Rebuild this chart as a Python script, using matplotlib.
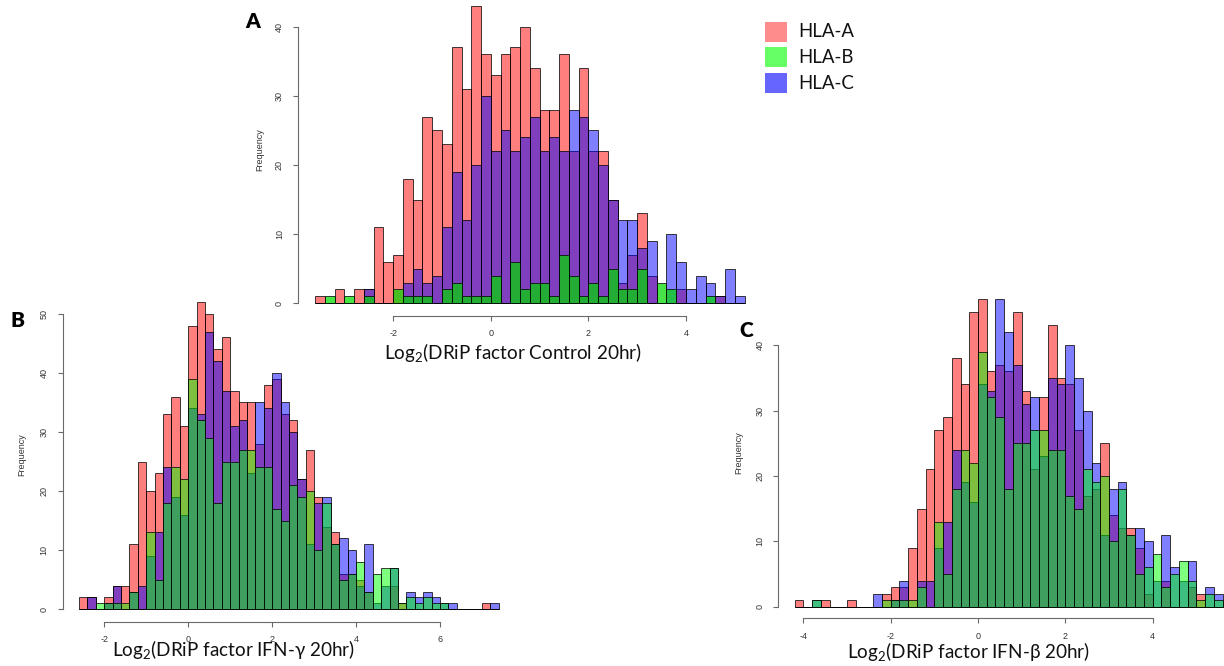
import numpy as np
import matplotlib
matplotlib.use("Agg")
import matplotlib.pyplot as plt
from matplotlib.patches import Rectangle

plt.rcParams['font.family'] = ['Lato', 'DejaVu Sans']
plt.rcParams['mathtext.fontset'] = 'custom'
plt.rcParams['mathtext.rm'] = 'Lato'

# ---------------- data ----------------
bin_width = 0.2
series_names = ["HLA-A", "HLA-B", "HLA-C"]

# Panel A: Control 20hr (bins start at -3.6)
a_start = -3.6
a_hla_a = [1, 0, 2, 0, 2, 2, 11, 6, 7, 18, 15, 27, 25, 23, 37, 31, 43, 36, 33, 36, 37, 40,
           34, 28, 28, 36, 22, 34, 22, 22, 15, 3, 7, 13, 4, 0, 0, 2, 0, 0, 0, 1, 0, 0]
a_hla_b = [0, 1, 0, 1, 0, 1, 0, 0, 2, 1, 1, 1, 0, 2, 3, 1, 1, 1, 4, 0, 6, 2,
           3, 3, 1, 7, 4, 1, 3, 1, 5, 2, 2, 5, 0, 3, 2, 0, 0, 0, 1, 0, 0, 0]
a_hla_c = [0, 0, 0, 0, 0, 2, 0, 0, 0, 3, 5, 3, 4, 11, 19, 12, 20, 30, 22, 25, 22, 24,
           27, 22, 24, 22, 28, 27, 25, 20, 15, 12, 12, 8, 9, 0, 10, 6, 2, 4, 3, 1, 5, 1]
a_xticks = [-2, 0, 2, 4]
a_yticks = [0, 10, 20, 30, 40]
a_xlabel = "Log$_\\mathregular{2}$(DRiP factor Control 20hr)"

# Panel B: IFN-gamma 20hr (bins start at -2.6)
b_start = -2.6
b_hla_a = [2, 2, 0, 2, 4, 4, 11, 25, 20, 23, 33, 36, 31, 48, 52, 50, 44, 46, 37, 35, 35, 28, 38, 39, 33,
           32, 22, 27, 19, 14, 13, 6, 6, 5, 3, 0, 0, 4, 1, 0, 0, 0, 0, 0, 0, 0, 0, 0, 1, 0]
b_hla_b = [0, 0, 1, 1, 1, 1, 3, 0, 13, 5, 18, 24, 22, 39, 32, 29, 18, 25, 25, 27, 27, 24, 24, 17, 15,
           21, 19, 20, 10, 18, 11, 5, 6, 8, 3, 6, 7, 7, 1, 2, 1, 2, 1, 1, 0, 0, 0, 0, 0, 0]
b_hla_c = [0, 2, 0, 1, 4, 0, 3, 4, 9, 13, 24, 19, 16, 34, 33, 47, 42, 37, 31, 32, 23, 35, 34, 40, 35,
           30, 22, 11, 18, 19, 11, 12, 10, 4, 11, 1, 4, 7, 0, 3, 2, 3, 2, 1, 1, 0, 0, 0, 0, 1]
b_xticks = [-2, 0, 2, 4, 6]
b_yticks = [0, 10, 20, 30, 40, 50]
b_xlabel = "Log$_\\mathregular{2}$(DRiP factor IFN-γ 20hr)"

# Panel C: IFN-beta 20hr (bins start at -4.2)
c_start = -4.2
c_hla_a = [1, 0, 0, 1, 0, 0, 1, 0, 0, 0, 2, 3, 3, 9, 15, 21, 27, 29, 38, 34, 45, 47, 36, 37, 36,
           45, 33, 21, 32, 43, 35, 34, 27, 17, 18, 25, 14, 12, 12, 9, 2, 0, 4, 0, 0, 3, 2, 0, 0]
c_hla_b = [0, 0, 1, 0, 0, 0, 0, 0, 0, 0, 1, 1, 1, 1, 3, 0, 13, 5, 18, 24, 22, 39, 32, 29, 18,
           25, 25, 27, 27, 24, 24, 17, 15, 21, 19, 20, 10, 18, 11, 5, 6, 8, 3, 5, 7, 4, 1, 2, 1]
c_hla_c = [0, 0, 1, 0, 0, 0, 0, 0, 0, 2, 0, 1, 4, 0, 4, 4, 9, 13, 24, 19, 16, 34, 33, 47, 42,
           37, 31, 32, 23, 35, 34, 40, 35, 30, 22, 11, 18, 19, 11, 12, 10, 4, 11, 6, 4, 7, 0, 3, 2]
c_xticks = [-4, -2, 0, 2, 4]
c_yticks = [0, 10, 20, 30, 40]
c_xlabel = "Log$_\\mathregular{2}$(DRiP factor IFN-β 20hr)"

# ---------------- figure ----------------
W, H = 1224, 666
fig = plt.figure(figsize=(W / 100, H / 100), dpi=100)

AXIS_COL = "#6a6a6a"
TICK_TXT = "#333333"


def fx(x):
    return x / W


def fy(y):
    return 1 - y / H


def make_axes(x0, sx, y0, sy, xlim, ylim, xticks, yticks):
    left = x0 + xlim[0] * sx
    right = x0 + xlim[1] * sx
    top = y0 - ylim[1] * sy
    bottom = y0 - ylim[0] * sy
    ax = fig.add_axes([fx(left), fy(bottom), (right - left) / W, (bottom - top) / H])
    ax.set_xlim(xlim)
    ax.set_ylim(ylim)
    ax.set_facecolor("none")
    for s in ("top", "right"):
        ax.spines[s].set_visible(False)
    for s in ("left", "bottom"):
        ax.spines[s].set_color(AXIS_COL)
        ax.spines[s].set_linewidth(0.8)
    ax.spines["bottom"].set_bounds(xticks[0], xticks[-1])
    ax.spines["left"].set_bounds(yticks[0], yticks[-1])
    ax.set_xticks(xticks)
    ax.set_yticks(yticks)
    ax.set_xticklabels([str(t) for t in xticks], family="Liberation Sans")
    ax.set_yticklabels([str(t) for t in yticks], family="Liberation Sans",
                       rotation=90, va="center")
    ax.tick_params(axis="both", direction="out", length=3.6, width=0.8,
                   color=AXIS_COL, labelcolor=TICK_TXT, labelsize=6.5)
    ax.tick_params(axis="x", pad=6.0)
    ax.tick_params(axis="y", pad=6.5)
    return ax


def draw_hist(ax, start, a, b, c, green):
    n = len(a)
    edges = start + bin_width * np.arange(n)
    kw = dict(width=bin_width, align="edge", edgecolor=(0, 0, 0, 0.75), linewidth=0.7)
    ax.bar(edges, a, color=(1, 0, 0, 0.5), **kw)
    ax.bar(edges, c, color=(0, 0, 1, 0.5), **kw)
    ax.bar(edges, b, color=green, **kw)


# Panel A
axA = make_axes(490.8, 48.8, 303.3, 6.915, (-3.95, 5.3), (-1.84, 44), a_xticks, a_yticks)
draw_hist(axA, a_start, a_hla_a, a_hla_b, a_hla_c, (0, 0.85, 0, 0.72))

# Panel B
axB = make_axes(188.2, 41.96, 609.3, 5.91, (-2.99, 7.5), (-2.1, 53), b_xticks, b_yticks)
draw_hist(axB, b_start, b_hla_a, b_hla_b, b_hla_c, (0, 1, 0, 0.5))

# Panel C
axC = make_axes(978.0, 43.675, 606.7, 6.54, (-4.57, 5.63), (-1.77, 48), c_xticks, c_yticks)
draw_hist(axC, c_start, c_hla_a, c_hla_b, c_hla_c, (0, 1, 0, 0.5))

# y labels
for (x, y) in [(259.3, 150), (21.7, 455), (738.3, 453)]:
    fig.text(fx(x), fy(y), "Frequency", rotation=90, ha="center", va="center",
             fontsize=6.5, color=TICK_TXT, family="Liberation Sans")

# x labels
for (x, y, t) in [(513, 353, a_xlabel), (233, 650, b_xlabel), (968, 652, c_xlabel)]:
    fig.text(fx(x), fy(y), t, ha="center", va="center", fontsize=13.6,
             color="#111111")

# panel letters
for (x, y, t) in [(252.7, 21.7, "A"), (18, 320.5, "B"), (746, 330.5, "C")]:
    fig.text(fx(x), fy(y), t, ha="center", va="center", fontsize=15,
             fontweight="heavy", color="black")

# legend
leg_colors = ["#ff8c8c", "#66ff66", "#6666ff"]
leg_y = [31.7, 57.3, 83.3]
for name, col, yc in zip(series_names, leg_colors, leg_y):
    fig.patches.append(Rectangle((fx(765), fy(yc + 10)), 22 / W, 20 / H,
                                 transform=fig.transFigure, facecolor=col,
                                 edgecolor="none"))
    fig.text(fx(798), fy(yc), name, ha="left", va="center", fontsize=13.4,
             color="#111111")

fig.savefig("out.png", dpi=100)
